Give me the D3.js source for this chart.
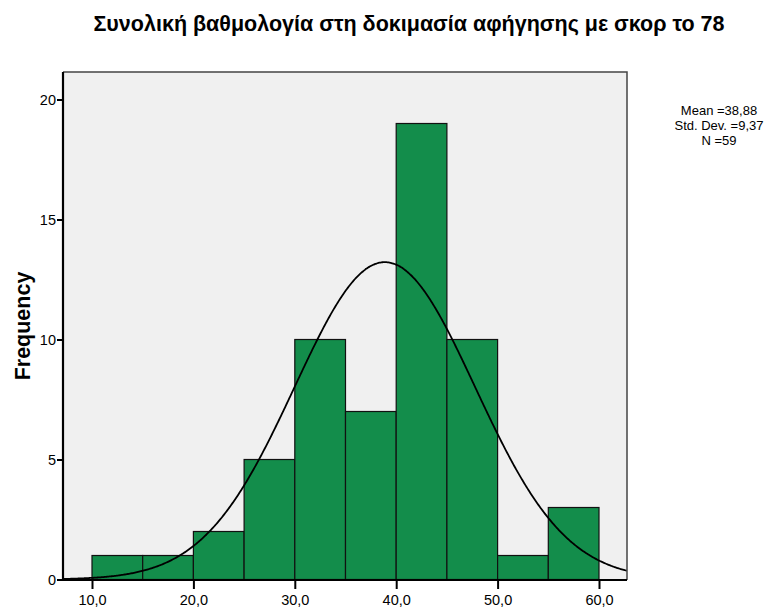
<!DOCTYPE html>
<html><head><meta charset="utf-8">
<script src="https://cdn.jsdelivr.net/npm/d3@7"></script>
<style>body{margin:0;background:#fff;} svg{display:block;font-family:"Liberation Sans",Arial,sans-serif;}</style>
</head><body>
<script>
const title = "Συνολική βαθμολογία στη δοκιμασία αφήγησης με σκορ το 78";
const binStarts = [10, 15, 20, 25, 30, 35, 40, 45, 50, 55];
const binWidth = 5;
const frequencies = [1, 1, 2, 5, 10, 7, 19, 10, 1, 3];
const xTicks = [10, 20, 30, 40, 50, 60];
const yTicks = [0, 5, 10, 15, 20];
const statLines = ["Mean =38,88", "Std. Dev. =9,37", "N =59"];
const mean = 38.88, nTotal = 59;
const curveSd = 8.9; // shape of drawn curve

const W = 781, H = 610;
const m = {left: 63, right: 627, top: 72, bottom: 580};
const svg = d3.select("body").append("svg").attr("width", W).attr("height", H);

const x = d3.scaleLinear().domain([10, 60]).range([92, 599]);
const xMin = x.invert(m.left), xMax = x.invert(m.right);
const y = d3.scaleLinear().domain([0, 20]).range([579.5, 99.5]);

svg.append("rect").attr("x", m.left).attr("y", m.top).attr("width", m.right - m.left).attr("height", m.bottom - m.top)
  .attr("fill", "#f0f0f0");

svg.append("g").selectAll("rect").data(binStarts).join("rect")
  .attr("x", d => x(d)).attr("y", (d, i) => y(frequencies[i]))
  .attr("width", d => x(d + binWidth) - x(d)).attr("height", (d, i) => y(0) - y(frequencies[i]))
  .attr("fill", "#138d4b").attr("stroke", "#111").attr("stroke-width", 1.2);

const pdf = v => nTotal * binWidth / (curveSd * Math.sqrt(2 * Math.PI)) * Math.exp(-((v - mean) ** 2) / (2 * curveSd * curveSd));
const pts = d3.range(xMin, xMax + 0.01, 0.1).map(v => [v, pdf(v)]);
svg.append("path").datum(pts)
  .attr("d", d3.line().x(d => x(d[0])).y(d => y(d[1])).curve(d3.curveBasis))
  .attr("fill", "none").attr("stroke", "#000").attr("stroke-width", 1.8);

// frame top/right
svg.append("path").attr("d", `M${m.left},${m.top}H${m.right}V${m.bottom}`).attr("fill", "none").attr("stroke", "#444").attr("stroke-width", 1.5);

// axes
const xAxis = svg.append("g").attr("transform", `translate(0,${m.bottom})`)
  .call(d3.axisBottom(x).tickValues(xTicks).tickSize(9).tickSizeOuter(0).tickFormat(d => d3.format(".1f")(d).replace(".", ",")));
xAxis.select(".domain").attr("d", `M${m.left},0H${m.right}`).attr("stroke-width", 2.2);
xAxis.selectAll(".tick line").attr("stroke-width", 2);
xAxis.selectAll("text").attr("font-size", 14.5).attr("font-family", "Liberation Sans, Arial").attr("fill", "#000").attr("y", 11).attr("dy", "0.95em");

const yAxis = svg.append("g").attr("transform", `translate(${m.left},0)`)
  .call(d3.axisLeft(y).tickValues(yTicks).tickSize(6).tickSizeOuter(0));
yAxis.select(".domain").attr("d", `M0,${m.top}V${m.bottom}`).attr("stroke-width", 2.2);
yAxis.selectAll(".tick line").attr("stroke-width", 2);
yAxis.selectAll("text").attr("font-size", 14.5).attr("font-family", "Liberation Sans, Arial").attr("fill", "#000").attr("x", -7).attr("dy", "0.36em");

svg.append("text").attr("x", 409).attr("y", 31).attr("text-anchor", "middle")
  .attr("font-size", 21.5).attr("font-weight", "bold").text(title);

svg.append("text").attr("transform", "translate(30,326) rotate(-90)").attr("text-anchor", "middle")
  .attr("font-size", 21.5).attr("font-weight", "bold").text("Frequency");

svg.append("g").selectAll("text").data(statLines).join("text")
  .attr("x", 719).attr("y", (d, i) => 115 + i * 15).attr("text-anchor", "middle")
  .attr("font-size", 13).text(d => d);
</script>
</body></html>
